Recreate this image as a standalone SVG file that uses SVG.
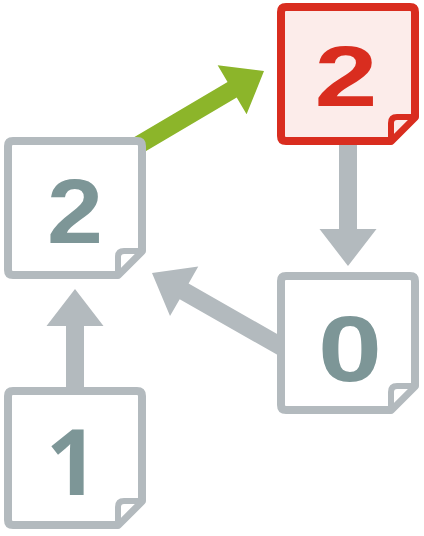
<svg xmlns="http://www.w3.org/2000/svg" width="424" height="536" viewBox="0 0 424 536">
<style>
.page{fill:#ffffff;stroke:#b3babe;stroke-width:8;stroke-linejoin:round}
.fold{fill:#ffffff;stroke:#b3babe;stroke-width:6;stroke-linejoin:round}
.red .page{fill:#fcecea;stroke:#d92d1f}
.red .fold{fill:#fcecea;stroke:#d92d1f}
.num{font-family:"Liberation Sans",Arial,sans-serif;font-weight:bold;text-anchor:middle;fill:#7d9697}
.one{font-family:"Open Sans","Liberation Sans",sans-serif}
.red .num{fill:#d92d1f}
.arrow{fill:#b3babe}
.arrow.green{fill:#8cb52a}
</style>
<g id="connectors">
<polygon class="arrow green" transform="translate(264,71) rotate(-30.5)" points="0,0 -37,-28.5 -37,-9 -150,-9 -150,9 -37,9 -37,28.5"/>
<polygon class="arrow" transform="translate(348,266) rotate(90)" points="0,0 -37,-28.5 -37,-9 -130,-9 -130,9 -37,9 -37,28.5"/>
<polygon class="arrow" transform="translate(152,273) rotate(-150.3)" points="0,0 -37,-28.5 -37,-9 -160,-9 -160,9 -37,9 -37,28.5"/>
<polygon class="arrow" transform="translate(75,289) rotate(-90)" points="0,0 -37,-28.5 -37,-9 -106,-9 -106,9 -37,9 -37,28.5"/>
</g>
<g id="node-red-2" class="red">
<path class="page" d="M286,7 H410 Q415,7 415,12 V117 L391,141 H286 Q281,141 281,136 V12 Q281,7 286,7 Z"/>
<path class="fold" d="M391,141 V123 Q391,117 397,117 H415 Z"/>
<text class="num" x="346" y="106" font-size="86" textLength="63" lengthAdjust="spacingAndGlyphs">2</text>
</g>
<g id="node-2" >
<path class="page" d="M13,141 H137 Q142,141 142,146 V251 L118,275 H13 Q8,275 8,270 V146 Q8,141 13,141 Z"/>
<path class="fold" d="M118,275 V257 Q118,251 124,251 H142 Z"/>
<text class="num" x="75" y="243" font-size="90" textLength="56" lengthAdjust="spacingAndGlyphs">2</text>
</g>
<g id="node-0">
<path class="page" d="M286,276 H410 Q415,276 415,281 V386 L391,410 H286 Q281,410 281,405 V281 Q281,276 286,276 Z"/>
<path class="fold" d="M391,410 V392 Q391,386 397,386 H415 Z"/>
<text class="num" x="350" y="381" font-size="92" textLength="64" lengthAdjust="spacingAndGlyphs">0</text>
</g>
<g id="node-1">
<path class="page" d="M13,391 H137 Q142,391 142,396 V501 L118,525 H13 Q8,525 8,520 V396 Q8,391 13,391 Z"/>
<path class="fold" d="M118,525 V507 Q118,501 124,501 H142 Z"/>
<text class="num one" x="72" y="495" font-size="91">1</text>
</g>
</svg>
